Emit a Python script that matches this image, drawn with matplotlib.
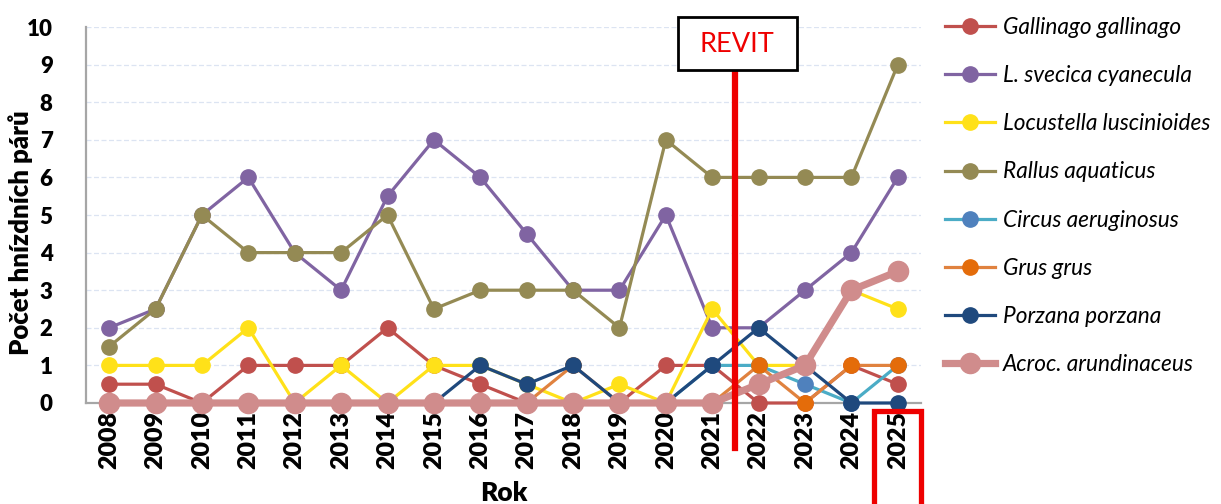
import numpy as np
import matplotlib
matplotlib.use("Agg")
import matplotlib.pyplot as plt
from matplotlib.patches import Rectangle
from matplotlib.lines import Line2D
from matplotlib import transforms

plt.rcParams['font.family'] = ['Lato', 'DejaVu Sans']

# Data
years = [str(y) for y in range(2008, 2026)]

gallinago  = [0.5, 0.5, 0, 1, 1, 1, 2, 1, 0.5, 0, 0, 0, 1, 1, 0, 0, 1, 0.5]
svecica    = [2, 2.5, 5, 6, 4, 3, 5.5, 7, 6, 4.5, 3, 3, 5, 2, 2, 3, 4, 6]
locustella = [1, 1, 1, 2, 0, 1, 0, 1, 1, 0.5, 0, 0.5, 0, 2.5, 1, 1, 3, 2.5]
rallus     = [1.5, 2.5, 5, 4, 4, 4, 5, 2.5, 3, 3, 3, 2, 7, 6, 6, 6, 6, 9]
circus     = [0, 0, 0, 0, 0, 0, 0, 0, 0, 0, 0, 0, 0, 1, 1, 0.5, 0, 1]
grus       = [0, 0, 0, 0, 0, 0, 0, 0, 0, 0, 1, 0, 0, 0, 1, 0, 1, 1]
porzana    = [0, 0, 0, 0, 0, 0, 0, 0, 1, 0.5, 1, 0, 0, 1, 2, 1, 0, 0]
acroc      = [0, 0, 0, 0, 0, 0, 0, 0, 0, 0, 0, 0, 0, 0, 0.5, 1, 3, 3.5]

series = [
    ("Gallinago gallinago", gallinago, "#C0504D", "#C0504D"),
    ("L. svecica cyanecula", svecica, "#8064A2", "#8064A2"),
    ("Locustella luscinioides", locustella, "#FFE119", "#FFE119"),
    ("Rallus aquaticus", rallus, "#948A54", "#948A54"),
    ("Circus aeruginosus", circus, "#4BACC6", "#4F81BD"),
    ("Grus grus", grus, "#E0823F", "#E46C0A"),
    ("Porzana porzana", porzana, "#1F497D", "#1F497D"),
]

fig = plt.figure(figsize=(12.21, 5.04), dpi=100)
ax = fig.add_axes([0.0704, 0.2004, 0.6839, 0.746])

x = np.arange(len(years))
for name, vals, lc, mc in series:
    ax.plot(x, vals, color=lc, lw=2.3, marker='o', ms=11, mfc=mc, mec=mc,
            label=name, clip_on=False, zorder=3)
ax.plot(x, acroc, color="#D08C8C", lw=5.2, marker='o', ms=14.5, mfc="#D08C8C",
        mec="#D08C8C", label="Acroc. arundinaceus", clip_on=False, zorder=3)

ax.set_xlim(-0.5, len(years) - 0.5)
ax.set_ylim(0, 10)
ax.set_yticks(range(0, 11))
ax.set_xticks(x)
ax.set_xticklabels(years, rotation=90, fontsize=18, fontweight='heavy')
for t in ax.get_yticklabels():
    t.set_fontsize(16)
    t.set_fontweight('heavy')
ax.tick_params(length=0, pad=6)
ax.tick_params(axis='y', pad=24)
ax.grid(axis='y', color='#DCE4F2', lw=0.9, ls=(0, (4, 2)))
ax.set_axisbelow(True)
for s in ['top', 'right']:
    ax.spines[s].set_visible(False)
for s in ['left', 'bottom']:
    ax.spines[s].set_color('#A6A6A6')
    ax.spines[s].set_linewidth(1.6)

ax.set_xlabel("Rok", fontsize=19, fontweight='heavy', labelpad=8)
ax.set_ylabel("Počet hnízdních párů", fontsize=18.5, fontweight='heavy')
ax.yaxis.set_label_coords(-0.064, 0.452)

leg = ax.legend(loc='upper left', bbox_to_anchor=(945 / 1221, 1 - 17 / 504),
                bbox_transform=fig.transFigure, frameon=False, fontsize=16.3,
                handlelength=2.2, handletextpad=0.35, labelspacing=1.2,
                borderpad=0, borderaxespad=0)
for t in leg.get_texts():
    t.set_fontstyle('italic')

# REVIT marker
tr = transforms.blended_transform_factory(ax.transData, fig.transFigure)
fig.add_artist(Line2D([13.5, 13.5], [1 - 448 / 504, 1 - 70 / 504], transform=tr,
                      color='#EE0000', lw=4.5, zorder=5))
fig.add_artist(Rectangle((678 / 1221, 1 - 70 / 504), 119 / 1221, 53 / 504,
                         transform=fig.transFigure, fc='white', ec='black', lw=2, zorder=6))
fig.text(737 / 1221, 1 - 45 / 504, "REVIT", color='#EE0000', fontsize=19.5,
         ha='center', va='center', zorder=7)

# highlight of the last year
fig.add_artist(Rectangle((874 / 1221, -0.02), 47 / 1221, 0.02 + (504 - 411) / 504,
                         transform=fig.transFigure, fc='none', ec='#EE0000', lw=3.8, zorder=6))

fig.savefig("out.png", dpi=100)
